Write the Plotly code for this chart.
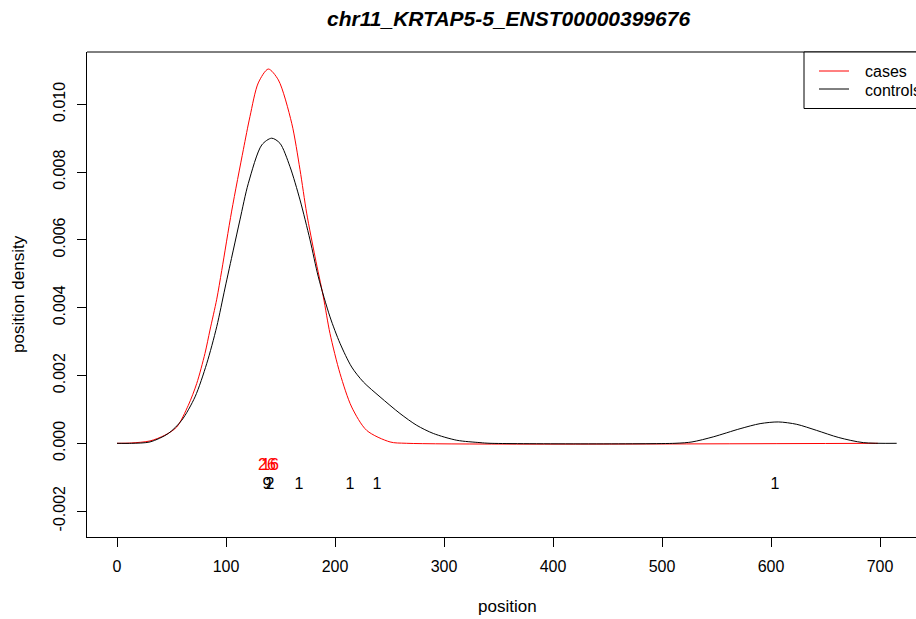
import plotly.graph_objects as go

# ---- data ----
cases_x = [0, 13.5, 30.3, 44.0, 54.8, 65.4, 73.1, 80.7, 85.3, 91.5, 96.1, 105.2, 115.9,
           122.0, 129.6, 138.8, 148.0, 160.3, 167.9, 174.0, 181.7, 189.3, 195.4, 204.6,
           215.3, 229.1, 250.5, 265.8, 698]
cases_y = [0, 0.00001, 0.00007, 0.00024, 0.00048, 0.00112, 0.00176, 0.00265, 0.00334,
           0.00425, 0.0051, 0.00685, 0.00866, 0.00964, 0.01063, 0.01104, 0.01072, 0.00944,
           0.00807, 0.00679, 0.0055, 0.00432, 0.00324, 0.00206, 0.00107, 0.00038, 0.00004,
           0, 0]

controls_x = [0, 13.5, 30.3, 47.1, 59.4, 71.6, 82.3, 91.5, 99.1, 106.7, 112.8, 120.5, 132.8,
              141.9, 149.5, 158.7, 167.9, 177.1, 184.7, 195.4, 204.6, 215.3, 226.0, 241.3,
              259.6, 275.0, 290.2, 311.7, 333.0, 342.2, 511.9, 527.5, 547.0, 571.6, 590.0,
              606.7, 623.6, 641.9, 662.2, 684.7, 715.3]
controls_y = [0, 0, 0.00004, 0.00029, 0.00068, 0.00137, 0.00235, 0.00344, 0.00458, 0.0057,
              0.00659, 0.00767, 0.0088, 0.009, 0.00885, 0.00816, 0.00718, 0.006, 0.00491,
              0.00373, 0.00295, 0.00225, 0.00181, 0.00137, 0.00088, 0.00053, 0.00029, 0.00009,
              0.00002, 0, 0, 0.00004, 0.00019, 0.00043, 0.00058, 0.00063, 0.00056, 0.00038,
              0.00017, 0.00002, 0]

cases_count_x = [137.6, 140.4]
cases_count_y = [-0.00068, -0.00068]
cases_count_text = ["26", "16"]

controls_count_x = [137.6, 140.4, 167.0, 213.8, 238.5, 603.7]
controls_count_y = [-0.00124] * 6
controls_count_text = ["9", "2", "1", "1", "1", "1"]

x_ticks = [0, 100, 200, 300, 400, 500, 600, 700]
y_ticks = [-0.002, 0.0, 0.002, 0.004, 0.006, 0.008, 0.010]
y_tick_text = ["-0.002", "0.000", "0.002", "0.004", "0.006", "0.008", "0.010"]

title_text = "chr11_KRTAP5-5_ENST00000399676"
series_names = ["cases", "controls"]
series_colors = ["#FF0000", "#000000"]

FONT = "Arial, Liberation Sans, sans-serif"

fig = go.Figure()
fig.add_trace(go.Scatter(x=cases_x, y=cases_y, mode="lines", name=series_names[0],
                         line=dict(color=series_colors[0], width=1, shape="spline", smoothing=0.8),
                         showlegend=False, hoverinfo="skip"))
fig.add_trace(go.Scatter(x=controls_x, y=controls_y, mode="lines", name=series_names[1],
                         line=dict(color=series_colors[1], width=1, shape="spline", smoothing=0.8),
                         showlegend=False, hoverinfo="skip"))
fig.add_trace(go.Scatter(x=cases_count_x, y=cases_count_y, mode="text", text=cases_count_text,
                         textfont=dict(color=series_colors[0], size=16, family=FONT),
                         showlegend=False, hoverinfo="skip"))
fig.add_trace(go.Scatter(x=controls_count_x, y=controls_count_y, mode="text",
                         text=controls_count_text,
                         textfont=dict(color=series_colors[1], size=16, family=FONT),
                         showlegend=False, hoverinfo="skip"))

W, H = 916, 619
L, R, T, B = 87, 0, 52, 619 - 537
pw = W - L - R
ph = H - T - B

def px_x(p):
    return (p - L) / pw

def px_y(p):
    return (H - B - p) / ph

shapes = [
    dict(type="line", xref="paper", yref="paper", x0=0, x1=1.02, y0=1, y1=1,
         line=dict(color="black", width=1)),
    dict(type="rect", xref="paper", yref="paper", x0=px_x(804), x1=1.05,
         y0=px_y(108.5), y1=1, line=dict(color="black", width=1), fillcolor="white"),
    dict(type="line", xref="paper", yref="paper", x0=px_x(819), x1=px_x(849),
         y0=px_y(71), y1=px_y(71), line=dict(color=series_colors[0], width=1)),
    dict(type="line", xref="paper", yref="paper", x0=px_x(819), x1=px_x(849),
         y0=px_y(89), y1=px_y(89), line=dict(color=series_colors[1], width=1)),
]

annotations = [
    dict(text="<b><i>" + title_text + "</i></b>", xref="paper", yref="paper",
         x=px_x(508), y=px_y(18), xanchor="center", yanchor="middle", showarrow=False,
         font=dict(size=21, family=FONT, color="black")),
    dict(text="position", xref="paper", yref="paper", x=px_x(507), y=px_y(606),
         xanchor="center", yanchor="middle", showarrow=False,
         font=dict(size=17, family=FONT, color="black")),
    dict(text="position density", xref="paper", yref="paper", x=px_x(18), y=px_y(294),
         xanchor="center", yanchor="middle", showarrow=False, textangle=-90,
         font=dict(size=17, family=FONT, color="black")),
    dict(text=series_names[0], xref="paper", yref="paper", x=px_x(863), y=px_y(72),
         xanchor="left", yanchor="middle", showarrow=False,
         font=dict(size=16, family=FONT, color="black")),
    dict(text=series_names[1], xref="paper", yref="paper", x=px_x(863), y=px_y(90),
         xanchor="left", yanchor="middle", showarrow=False,
         font=dict(size=16, family=FONT, color="black")),
]

fig.update_layout(
    width=W, height=H,
    margin=dict(l=L, r=R, t=T, b=B, pad=0),
    paper_bgcolor="white", plot_bgcolor="white",
    font=dict(family=FONT, size=16, color="black"),
    shapes=shapes, annotations=annotations,
    showlegend=False,
)
px_per_unit = (880 - 117) / 700.0
fig.update_xaxes(
    range=[(87 - 117) / px_per_unit, (916 - 117) / px_per_unit],
    tickvals=x_ticks, ticks="outside", ticklen=9, tickcolor="black",
    showline=True, linecolor="black", linewidth=1, showgrid=False, zeroline=False,
    tickfont=dict(size=16, family=FONT, color="black"), ticklabelstandoff=6,
)
y_px_per_unit = 67.8 / 0.002
fig.update_yaxes(
    range=[-(537 - 443.3) / y_px_per_unit, (443.3 - 52) / y_px_per_unit],
    tickvals=y_ticks, ticktext=y_tick_text, ticks="outside", ticklen=9, tickcolor="black",
    tickangle=-90,
    showline=True, linecolor="black", linewidth=1, showgrid=False, zeroline=False,
    tickfont=dict(size=16, family=FONT, color="black"), ticklabelstandoff=6,
)

fig.write_html(
    "out.html",
    config={"displayModeBar": False},
    post_script="document.body.style.margin='0px';document.body.style.overflow='hidden';",
)
